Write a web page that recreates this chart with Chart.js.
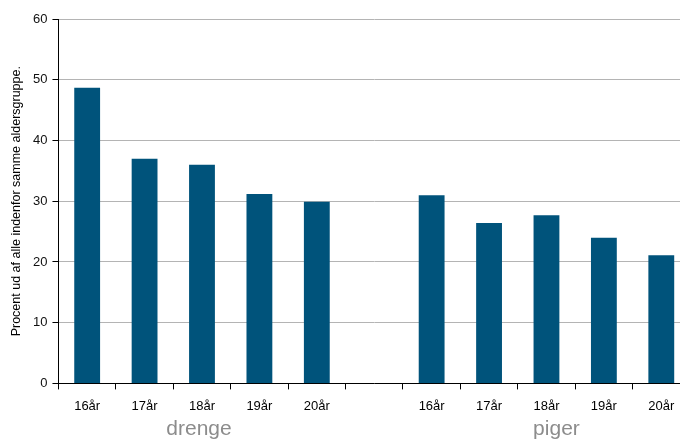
<!DOCTYPE html>
<html>
<head>
<meta charset="utf-8">
<script src="https://cdn.jsdelivr.net/npm/chart.js@4"></script>
<style>
  html, body { margin: 0; padding: 0; background: #fff; overflow: hidden; }
  #wrap { position: relative; width: 700px; height: 441px; }
</style>
</head>
<body>
<div id="wrap"><canvas id="chart"></canvas></div>
<script>
// age groups, boys then girls, with one empty slot between
const labels = ['16år', '17år', '18år', '19år', '20år', '', '16år', '17år', '18år', '19år', '20år'];
const values = [48.7, 37.0, 36.0, 31.2, 29.9, null, 31.0, 26.4, 27.7, 24.0, 21.1];
const groups = [
  { text: 'drenge', at: 2, shift: -3 },
  { text: 'piger', at: 8, shift: 10 },
];
const yTicks = [0, 10, 20, 30, 40, 50, 60];

const groupLabels = {
  id: 'groupLabels',
  afterDraw(chart) {
    const ctx = chart.ctx;
    const x = chart.scales.x;
    ctx.save();
    ctx.font = '21px "Liberation Sans", Arial, sans-serif';
    ctx.fillStyle = '#8c8c8c';
    ctx.textAlign = 'center';
    ctx.textBaseline = 'alphabetic';
    groups.forEach(g => {
      ctx.fillText(g.text, x.getPixelForValue(g.at) + g.shift, chart.chartArea.bottom + 52);
    });
    ctx.restore();
  }
};

new Chart(document.getElementById('chart'), {
  type: 'bar',
  data: {
    labels: labels,
    datasets: [{
      data: values,
      backgroundColor: '#00537b',
      barPercentage: 0.9,
      categoryPercentage: 0.5,
    }],
  },
  options: {
    responsive: true,
    maintainAspectRatio: false,
    animation: false,
    layout: { padding: { left: 1, right: 10, top: 19, bottom: 18 } },
    plugins: {
      legend: { display: false },
      tooltip: { enabled: false },
    },
    scales: {
      x: {
        grid: {
          offset: true,
          drawOnChartArea: false,
          tickLength: 6,
          tickColor: '#000',
        },
        border: { color: '#000', width: 1 },
        ticks: {
          color: '#000',
          padding: 9,
          maxRotation: 0,
          autoSkip: false,
          font: { family: '"Liberation Sans Narrow", "Liberation Sans", Arial', size: 13 },
        },
      },
      y: {
        min: 0,
        max: 60,
        afterBuildTicks: axis => { axis.ticks = yTicks.map(v => ({ value: v })); },
        grid: {
          color: '#b4b4b4',
          tickColor: '#000',
          tickLength: 6,
        },
        border: { color: '#000', width: 1 },
        ticks: {
          color: '#111',
          padding: 5,
          font: { family: '"Liberation Sans", Arial', size: 13 },
        },
        title: {
          display: true,
          text: 'Procent ud af alle indenfor samme aldersgruppe.',
          color: '#000',
          padding: { top: 8, bottom: 4 },
          font: { family: '"Liberation Sans", Arial', size: 12.5 },
        },
      },
    },
  },
  plugins: [groupLabels],
});
</script>
</body>
</html>
